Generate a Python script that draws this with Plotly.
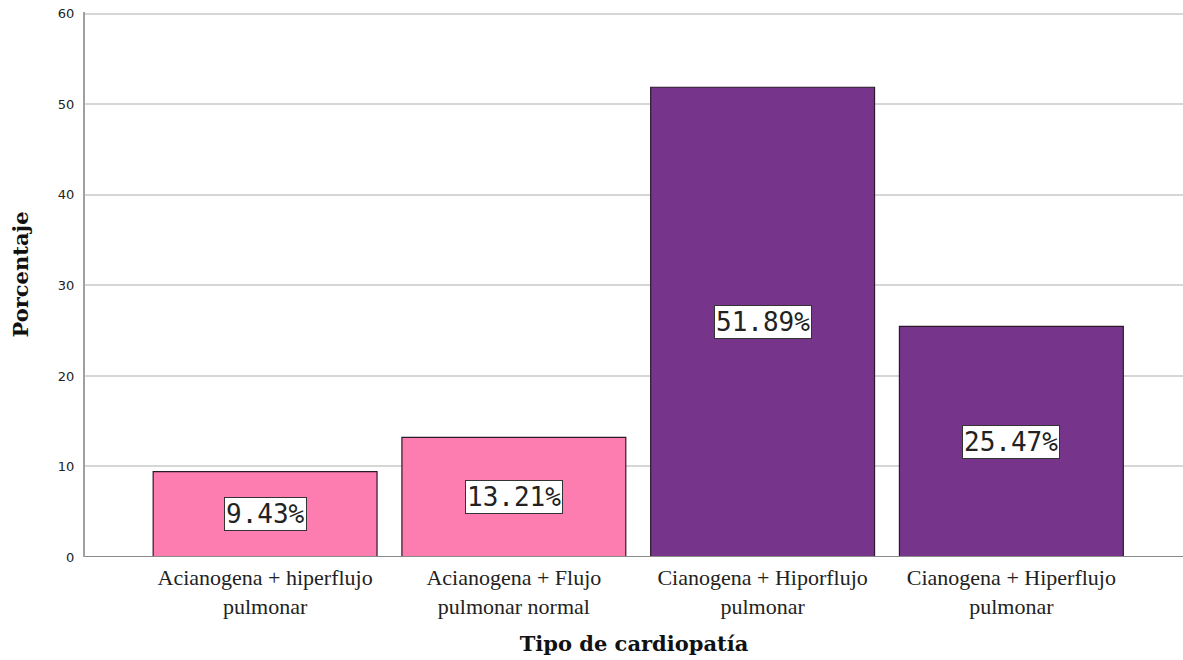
import plotly.graph_objects as go

categories = ["Acianogena + hiperflujo<br>pulmonar",
              "Acianogena + Flujo<br>pulmonar normal",
              "Cianogena + Hiporflujo<br>pulmonar",
              "Cianogena + Hiperflujo<br>pulmonar"]
values = [9.43, 13.21, 51.89, 25.47]
colors = ["#FD7DB1", "#FD7DB1", "#76348B", "#76348B"]
y_ticks = [0, 10, 20, 30, 40, 50, 60]

fig = go.Figure()
fig.add_trace(go.Bar(
    x=list(range(len(categories))), y=values,
    marker=dict(color=colors, line=dict(color="#2a1a2a", width=1.2)),
    width=0.9, showlegend=False, hoverinfo="skip"))

for i, v in enumerate(values):
    fig.add_annotation(x=i, y=v / 2, text=f"{v:.2f}%", showarrow=False,
                       font=dict(family="DejaVu Sans Mono", size=26, color="#222"),
                       bgcolor="white", bordercolor="#333", borderwidth=1, borderpad=1)

fig.update_xaxes(tickvals=list(range(len(categories))), ticktext=categories,
                 range=[-0.724, 3.69], showgrid=False, zeroline=False,
                 showline=False, ticks="", ticklabelstandoff=5,
                 tickfont=dict(family="Liberation Serif", size=22, color="#222"),
                 title=dict(text="<b>Tipo de cardiopatía</b>",
                            font=dict(family="DejaVu Serif", size=21, color="#111"),
                            standoff=18))
fig.update_yaxes(range=[0, 60.2], tickvals=y_ticks, showgrid=True, gridcolor="#d6d6d6",
                 gridwidth=2, zeroline=False, showline=True, linecolor="#a0a0a0",
                 linewidth=2, ticks="", ticklabelstandoff=6,
                 tickfont=dict(family="DejaVu Sans", size=13, color="#222"),
                 title=dict(text="&nbsp;&nbsp;&nbsp;<b>Porcentaje</b>",
                            font=dict(family="DejaVu Serif", size=21, color="#111"),
                            standoff=24))
fig.add_shape(type="line", xref="paper", yref="y", x0=0, x1=1, y0=0, y1=0,
              line=dict(color="#8a8a8a", width=2))

fig.update_layout(width=1183, height=660, margin=dict(l=85, r=0, t=12, b=103),
                  plot_bgcolor="white", paper_bgcolor="white", bargap=0.1)
fig.write_html("out.html", config={"displayModeBar": False},
               post_script="document.body.style.margin='0';document.body.style.overflow='hidden';")
